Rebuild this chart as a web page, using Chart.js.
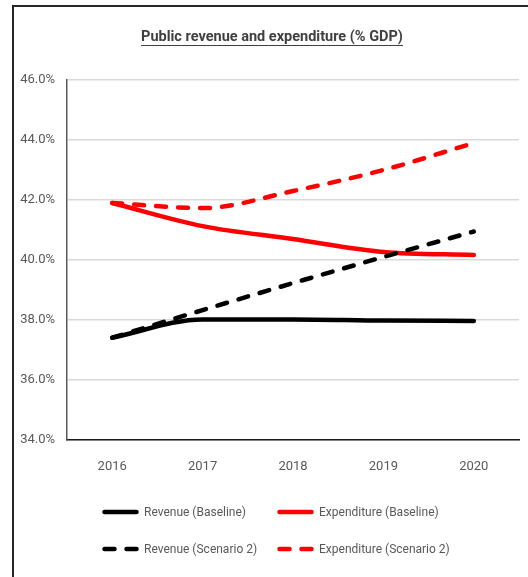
<!DOCTYPE html>
<html>
<head>
<meta charset="utf-8">
<script src="https://cdn.jsdelivr.net/npm/chart.js@4/dist/chart.umd.min.js"></script>
<style>
  html, body { margin: 0; padding: 0; background: #fff; }
  #wrap { position: relative; width: 528px; height: 577px; overflow: hidden; }
  #c { position: absolute; left: 0; top: 0; }
  .frameTop { position: absolute; left: 12px; top: 5px; width: 516px; height: 2px; background: #262626; }
  .frameLeft { position: absolute; left: 12px; top: 5px; width: 1.5px; height: 572px; background: #262626; }
  #title { position: absolute; left: 0; width: 544px; top: 28px; text-align: center;
           font-family: 'Roboto', sans-serif; font-weight: bold; font-size: 14.5px; color: #404040;
           text-decoration: underline; text-underline-offset: 4px; text-decoration-thickness: 1px; white-space: nowrap; }
  #legend { position: absolute; left: 0; top: 0; width: 528px; height: 577px; pointer-events: none;
            font-family: 'Roboto', sans-serif; font-size: 12px; color: #595959; }
  .item { position: absolute; display: flex; align-items: center; white-space: nowrap; }
  .item svg { margin-right: 5px; }
</style>
</head>
<body>
<div id="wrap">
  <canvas id="c" width="528" height="577"></canvas>
  <div class="frameTop"></div>
  <div class="frameLeft"></div>
  <div id="title"></div>
  <div id="legend"></div>
</div>
<script>
const categories = ['2016', '2017', '2018', '2019', '2020'];
const revenueBaseline = [37.41, 38.02, 38.02, 37.98, 37.97];
const expenditureBaseline = [41.9, 41.13, 40.7, 40.27, 40.17];
const revenueScenario2 = [37.41, 38.33, 39.23, 40.1, 40.95];
const expenditureScenario2 = [41.9, 41.73, 42.3, 43.0, 43.9];
const yTicks = [34, 36, 38, 40, 42, 44, 46];
const seriesLabels = ['Revenue (Baseline)', 'Expenditure (Baseline)', 'Revenue (Scenario 2)', 'Expenditure (Scenario 2)'];
const titleText = 'Public revenue and expenditure (% GDP)';

const FONT = "'Roboto', sans-serif";
const DASH = [10, 12];

document.getElementById('title').textContent = titleText;

function ds(label, data, color, dashed, order) {
  return {
    label, data,
    borderColor: color, backgroundColor: color,
    borderWidth: 4.5,
    borderDash: dashed ? DASH : [],
    borderCapStyle: 'round',
    borderJoinStyle: 'round',
    pointRadius: 0, pointHoverRadius: 0,
    cubicInterpolationMode: 'monotone',
    fill: false,
    order
  };
}

const chart = new Chart(document.getElementById('c'), {
  type: 'line',
  data: {
    labels: categories,
    datasets: [
      ds(seriesLabels[0], revenueBaseline, '#000000', false, 2),
      ds(seriesLabels[1], expenditureBaseline, '#ff0000', false, 2),
      ds(seriesLabels[2], revenueScenario2, '#000000', true, 1),
      ds(seriesLabels[3], expenditureScenario2, '#ff0000', true, 1)
    ]
  },
  options: {
    responsive: false,
    animation: false,
    devicePixelRatio: 1,
    layout: { padding: { left: 14, right: 9, top: 80, bottom: 97 } },
    plugins: {
      legend: { display: false },
      tooltip: { enabled: false },
      title: { display: false }
    },
    scales: {
      x: {
        offset: true,
        grid: { display: false, drawTicks: false },
        border: { display: true, color: '#1a1a1a', width: 1.5 },
        ticks: { color: '#595959', font: { family: FONT, size: 13 }, padding: 19, maxRotation: 0 },
        afterFit(s) { s.height = 40; }
      },
      y: {
        min: 34, max: 46,
        afterBuildTicks(s) { s.ticks = yTicks.map(v => ({ value: v })); },
        grid: { color: '#d9d9d9', lineWidth: 1.5, drawTicks: false },
        border: { display: true, color: '#595959', width: 1.5 },
        ticks: {
          color: '#595959', font: { family: FONT, size: 13 }, padding: 12,
          callback: v => Number(v).toFixed(1) + '%'
        },
        afterFit(s) { s.width = 53; }
      }
    }
  }
});

// HTML legend built from datasets
const legendPos = [
  { x: 102, y: 512 }, { x: 277, y: 512 },
  { x: 102, y: 549 }, { x: 277, y: 549 }
];
const legendEl = document.getElementById('legend');
chart.data.datasets.forEach((d, i) => {
  const p = legendPos[i];
  const item = document.createElement('div');
  item.className = 'item';
  item.style.left = p.x + 'px';
  item.style.top = (p.y - 9) + 'px';
  item.style.height = '18px';
  const dash = d.borderDash.length ? `stroke-dasharray="${d.borderDash.join(' ')}"` : '';
  item.innerHTML = `<svg width="37" height="8"><line x1="2.5" y1="4" x2="34.5" y2="4" stroke="${d.borderColor}" stroke-width="4.5" stroke-linecap="round" ${dash}/></svg><span></span>`;
  item.querySelector('span').textContent = d.label;
  legendEl.appendChild(item);
});
</script>
</body>
</html>
